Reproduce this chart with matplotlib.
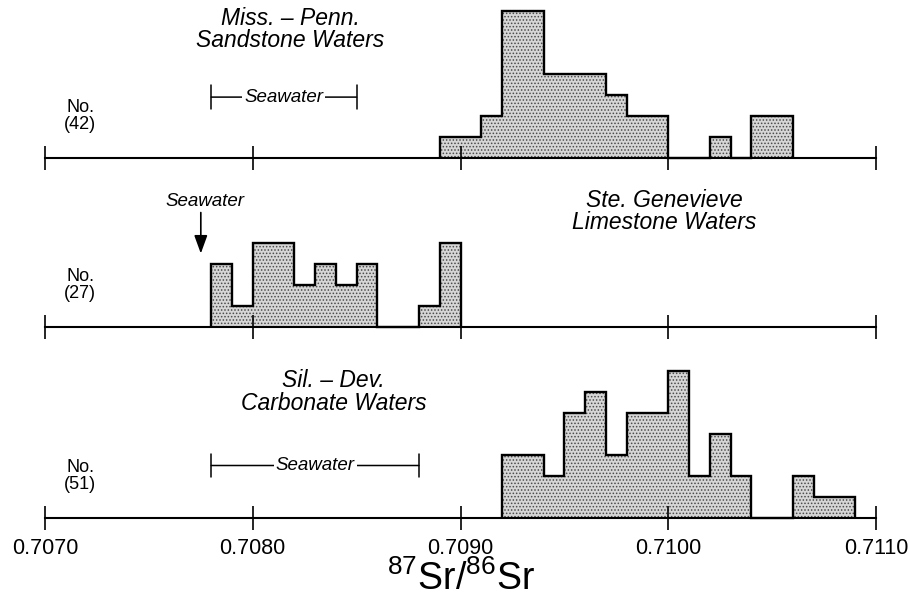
import numpy as np
import matplotlib

matplotlib.use("Agg")
import matplotlib.pyplot as plt

plt.rcParams["font.family"] = ["Liberation Sans", "DejaVu Sans"]
plt.rcParams["mathtext.fontset"] = "custom"
plt.rcParams["mathtext.rm"] = "Liberation Sans"
plt.rcParams["hatch.linewidth"] = 0.7

# data: counts per 0.0001 bin, starting at the given left edge
BIN = 0.0001
X_RANGE = (0.7070, 0.7110)
TICKS = [0.7070, 0.7080, 0.7090, 0.7100, 0.7110]
TICK_LABELS = ["0.7070", "0.7080", "0.7090", "0.7100", "0.7110"]

sandstone_start = 0.7089
sandstone_counts = [1, 1, 2, 7, 7, 4, 4, 4, 3, 2, 2, 0, 0, 1, 0, 2, 2]
genevieve_start = 0.7078
genevieve_counts = [3, 1, 4, 4, 2, 3, 2, 3, 0, 0, 1, 4]
carbonate_start = 0.7092
carbonate_counts = [3, 3, 2, 5, 6, 3, 5, 5, 7, 2, 4, 2, 0, 0, 2, 1, 1]

titles = ["Miss. \u2013 Penn.\nSandstone Waters",
          "Ste. Genevieve\nLimestone Waters",
          "Sil. \u2013 Dev.\nCarbonate Waters"]
n_labels = ["No.\n(42)", "No.\n(27)", "No.\n(51)"]
seawater_sandstone = (0.7078, 0.7085)
seawater_genevieve = 0.70775
seawater_carbonate = (0.7078, 0.7088)

# layout (pixels)
W, H = 910, 605
LEFT, RIGHT = 45, 876
PX_PER_COUNT = 21
YLO, YHI = -1.5, 7.5
baselines = [158, 327, 518]
title_pos = [(0.70818, 6.1), (0.70998, 5.5), (0.70839, 6.0)]

fig = plt.figure(figsize=(W / 100, H / 100), dpi=100)


def make_axes(yb):
    bottom = yb - YLO * PX_PER_COUNT
    ax = fig.add_axes([LEFT / W, 1 - bottom / H, (RIGHT - LEFT) / W,
                       (YHI - YLO) * PX_PER_COUNT / H])
    ax.set_xlim(X_RANGE)
    ax.set_ylim(YLO, YHI)
    ax.patch.set_visible(False)
    for s in ("top", "right", "left"):
        ax.spines[s].set_visible(False)
    ax.spines["bottom"].set_position(("data", 0))
    ax.spines["bottom"].set_linewidth(1.5)
    ax.set_yticks([])
    ax.set_xticks(TICKS)
    ax.set_xticklabels(TICK_LABELS)
    ax.tick_params(axis="x", direction="inout", length=17, width=1.2,
                   labelsize=15.5, pad=6)
    return ax


datasets = [(sandstone_start, sandstone_counts),
            (genevieve_start, genevieve_counts),
            (carbonate_start, carbonate_counts)]

axes = []
for i, (start, counts) in enumerate(datasets):
    ax = make_axes(baselines[i])
    edges = start + BIN * np.arange(len(counts) + 1)
    ax.stairs(counts, edges, fill=True, facecolor="#d6d6d6",
              edgecolor="#4a4a4a", hatch=".....", linewidth=0)
    ax.stairs(counts, edges, color="black", linewidth=1.7)
    ax.text(title_pos[i][0], title_pos[i][1], titles[i], style="italic",
            fontsize=16.5, ha="center", va="center", linespacing=0.95)
    ax.text(0.70717, 2.0, n_labels[i], fontsize=13, ha="center",
            va="center", linespacing=0.95)
    if i < 2:
        ax.tick_params(axis="x", labelbottom=False)
    axes.append(ax)


def seawater_bracket(ax, lo, hi, y):
    ax.annotate("", xy=(lo, y), xytext=(hi, y),
                arrowprops=dict(arrowstyle="|-|,widthA=0.85,widthB=0.85",
                                lw=1.1, color="black", shrinkA=0, shrinkB=0))
    ax.text((lo + hi) / 2, y, "Seawater", style="italic", fontsize=13.5,
            ha="center", va="center",
            bbox=dict(facecolor="white", edgecolor="none", pad=1.5))


seawater_bracket(axes[0], seawater_sandstone[0], seawater_sandstone[1], 2.9)
seawater_bracket(axes[2], seawater_carbonate[0], seawater_carbonate[1], 2.5)

axes[1].text(0.70777, 6.0, "Seawater", style="italic", fontsize=13.5,
             ha="center", va="center")
axes[1].annotate("", xy=(seawater_genevieve, 3.5),
                 xytext=(seawater_genevieve, 5.45),
                 arrowprops=dict(arrowstyle="-|>,head_length=0.55,head_width=0.2",
                                 mutation_scale=20, lw=1.2, color="black",
                                 shrinkA=0, shrinkB=0))

axes[2].set_xlabel(r"$\mathregular{^{87}Sr/^{86}Sr}$", fontsize=27, labelpad=1)

fig.savefig("out.png", dpi=100)
